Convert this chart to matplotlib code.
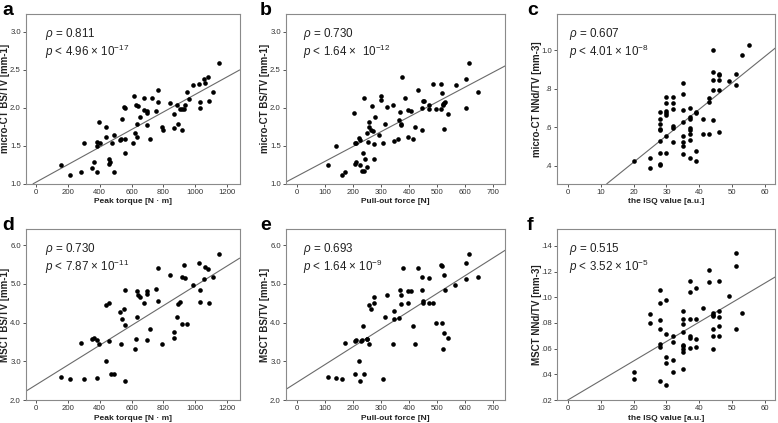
import matplotlib
matplotlib.use("Agg")
import matplotlib.pyplot as plt

plt.rcParams['font.family'] = ['Liberation Sans', 'DejaVu Sans']
plt.rcParams['mathtext.fontset'] = 'custom'
plt.rcParams['mathtext.rm'] = 'Liberation Sans'
plt.rcParams['mathtext.it'] = 'Liberation Sans:italic'
plt.rcParams['mathtext.bf'] = 'Liberation Sans:bold'

# ---------------- data ----------------
# a: peak torque vs micro-CT BS/TV
a_x = [155, 215, 284, 299, 351, 366, 380, 383, 383, 395, 401, 437, 441, 460, 458, 466, 479, 489,
       491, 527, 531, 541, 554, 558, 558, 556, 606, 613, 623, 627, 633, 637, 641, 652, 677, 679,
       694, 696, 698, 715, 729, 753, 763, 769, 792, 800, 844, 866, 866, 886, 890, 905, 915, 917,
       928, 937, 949, 962, 989, 1024, 1029, 1029, 1056, 1062, 1081, 1087, 1112, 1147]
a_y = [1.24, 1.11, 1.16, 1.54, 1.21, 1.29, 1.16, 1.50, 1.55, 1.81, 1.53, 1.75, 1.61, 1.32, 1.26,
       1.28, 1.53, 1.16, 1.64, 1.57, 1.59, 1.85, 2.01, 2.00, 1.59, 1.40, 1.53, 2.15, 1.66, 2.04,
       1.62, 1.78, 2.02, 1.88, 2.12, 1.97, 1.93, 1.95, 1.77, 1.59, 2.13, 1.95, 2.23, 2.08, 1.75,
       1.70, 2.06, 1.91, 1.73, 2.03, 1.78, 1.98, 1.98, 1.70, 1.98, 2.04, 2.20, 2.11, 2.30, 2.31,
       2.08, 1.99, 2.38, 2.32, 2.40, 2.09, 2.21, 2.59]

# b: pull-out force vs micro-CT BS/TV
b_x = [111, 139, 159, 170, 204, 207, 209, 206, 210, 221, 225, 226, 234, 233, 238, 237, 241, 248,
       253, 251, 257, 258, 262, 267, 269, 273, 279, 274, 291, 299, 299, 306, 312, 319, 341, 345,
       362, 359, 368, 369, 371, 375, 386, 394, 397, 407, 413, 421, 432, 446, 446, 449, 451, 471,
       472, 486, 495, 513, 514, 516, 520, 522, 524, 528, 523, 539, 567, 601, 603, 614, 644]
b_y = [1.24, 1.49, 1.11, 1.16, 1.93, 1.53, 1.54, 1.26, 1.29, 1.60, 1.58, 1.25, 1.40, 1.17, 1.17,
       2.12, 1.32, 1.67, 1.55, 1.22, 1.81, 1.75, 1.70, 2.02, 1.69, 1.52, 1.88, 1.32, 1.64, 2.15,
       2.10, 1.54, 1.78, 2.01, 2.03, 1.56, 1.84, 1.59, 1.94, 1.77, 1.78, 2.40, 2.13, 1.97, 1.62,
       1.95, 1.59, 1.74, 2.23, 2.00, 1.70, 2.09, 2.09, 2.03, 1.98, 2.31, 1.98, 1.98, 2.31, 2.19,
       2.04, 2.05, 2.06, 2.08, 1.72, 1.91, 2.30, 2.38, 1.99, 2.59, 2.21]

# c: ISQ vs micro-CT NNd/TV
c_x = [20, 25, 25, 28, 28, 28, 28, 28, 28, 28, 28, 28, 30, 30, 30, 30, 30, 30, 30, 32, 32, 32,
       32, 32, 32, 35, 35, 35, 35, 35, 35, 35, 35, 37, 37, 37, 37, 37, 37, 37, 37, 39, 39, 39,
       39, 41, 41, 43, 43, 43, 44, 44, 44, 44, 44, 46, 46, 46, 46, 46, 49, 51, 51, 53, 55]
c_y = [0.424, 0.388, 0.438, 0.680, 0.645, 0.617, 0.590, 0.584, 0.530, 0.466, 0.410, 0.403,
       0.760, 0.726, 0.686, 0.676, 0.665, 0.553, 0.466, 0.760, 0.726, 0.695, 0.605, 0.598,
       0.521, 0.832, 0.775, 0.690, 0.625, 0.556, 0.523, 0.500, 0.459, 0.700, 0.653, 0.645,
       0.594, 0.584, 0.563, 0.535, 0.438, 0.678, 0.674, 0.475, 0.426, 0.645, 0.565, 0.565,
       0.752, 0.730, 1.000, 0.890, 0.848, 0.792, 0.640, 0.879, 0.872, 0.846, 0.796, 0.577,
       0.840, 0.875, 0.820, 0.976, 1.030]

# d: peak torque vs MSCT BS/TV
d_x = [155, 215, 284, 299, 351, 366, 380, 380, 395, 437, 441, 460, 460, 470, 491, 527, 541, 531,
       554, 558, 558, 558, 623, 627, 633, 637, 641, 652, 677, 696, 698, 696, 715, 753, 763, 769,
       792, 844, 866, 866, 886, 890, 905, 915, 917, 928, 937, 949, 989, 1024, 1029, 1029, 1056,
       1062, 1081, 1087, 1112, 1147]
d_y = [2.59, 2.54, 3.46, 2.54, 3.58, 3.59, 2.57, 3.56, 3.44, 4.45, 3.01, 3.52, 4.50, 2.68, 2.68,
       4.28, 4.10, 3.44, 4.34, 4.84, 3.93, 2.49, 3.33, 3.57, 4.82, 4.14, 4.71, 4.66, 4.51, 4.81,
       4.75, 3.55, 3.83, 4.86, 5.41, 4.56, 3.44, 5.23, 3.75, 3.61, 4.15, 4.47, 4.52, 5.19, 3.97,
       5.48, 5.16, 3.97, 4.97, 5.55, 4.53, 4.83, 5.12, 5.44, 5.39, 4.51, 5.18, 5.78]

# e: pull-out force vs MSCT BS/TV
e_x = [111, 139, 159, 170, 205, 209, 205, 222, 225, 228, 233, 234, 237, 249, 251, 256, 258, 265,
       274, 276, 305, 312, 319, 342, 344, 344, 364, 368, 369, 372, 376, 394, 397, 407, 413, 419,
       431, 447, 447, 448, 449, 471, 472, 486, 495, 515, 516, 517, 519, 523, 524, 529, 540, 565,
       601, 601, 613, 644]
e_y = [2.59, 2.57, 2.54, 3.46, 3.53, 3.56, 2.67, 3.01, 2.48, 3.52, 3.54, 3.92, 2.68, 3.57, 3.57,
       3.44, 4.45, 4.34, 4.50, 4.66, 2.54, 4.14, 4.71, 3.44, 4.29, 4.10, 4.12, 4.85, 4.72, 4.47,
       5.40, 4.51, 4.82, 4.81, 3.92, 3.44, 5.41, 5.19, 4.84, 4.56, 4.51, 5.16, 4.51, 4.51, 3.98,
       5.48, 5.45, 3.98, 3.33, 3.74, 5.22, 4.83, 3.60, 4.97, 5.54, 5.13, 5.78, 5.18]

# f: ISQ vs MSCT NNd/TV
f_x = [20, 20, 25, 25, 28, 28, 28, 28, 28, 28, 28, 30, 30, 30, 30, 30, 32, 32, 32, 32, 35, 35,
       35, 35, 35, 35, 35, 35, 35, 37, 37, 37, 37, 37, 37, 39, 39, 39, 39, 41, 43, 43, 44, 44,
       44, 44, 44, 44, 46, 46, 46, 46, 46, 49, 51, 51, 51, 53]
f_y = [0.0415, 0.0360, 0.0870, 0.0800, 0.1060, 0.0955, 0.0820, 0.0753, 0.0635, 0.0614, 0.0350,
       0.0980, 0.0714, 0.0533, 0.0490, 0.0320, 0.0698, 0.0650, 0.0515, 0.0418, 0.0897, 0.0834,
       0.0790, 0.0730, 0.0632, 0.0620, 0.0600, 0.0575, 0.0444, 0.1130, 0.1044, 0.0834, 0.0695,
       0.0685, 0.0604, 0.1070, 0.0834, 0.0672, 0.0612, 0.0913, 0.1210, 0.1120, 0.0880, 0.0866,
       0.0853, 0.0750, 0.0698, 0.0598, 0.1125, 0.0895, 0.0845, 0.0777, 0.0698, 0.1013, 0.1345,
       0.1243, 0.0750, 0.0880]

# regression lines (intercept, slope)
fit_a = (1.02, 0.001153)
fit_b = (1.10, 0.00195)
fit_c = (0.142, 0.0138)
fit_d = (2.39, 0.00256)
fit_e = (2.46, 0.00459)
fit_f = (0.020, 0.00152)

rho_texts = ['0.811', '0.730', '0.607', '0.730', '0.693', '0.515']
p_texts = [r'4.96 × 10$^{-17}$', r'1.64 ×  10$^{-12}$', r'4.01 × 10$^{-8}$',
           r'7.87 × 10$^{-11}$', r'1.64 × 10$^{-9}$', r'3.52 × 10$^{-5}$']

x_labels = ['Peak torque [N · m]', 'Pull-out force [N]', 'the ISQ value [a.u.]']
y_labels = ['micro-CT BS/TV [mm-1]', 'micro-CT BS/TV [mm-1]', 'micro-CT NNd/TV [mm-3]',
            'MSCT BS/TV [mm-1]', 'MSCT BS/TV [mm-1]', 'MSCT NNd/TV [mm-3]']
panel_letters = ['a', 'b', 'c', 'd', 'e', 'f']

xt_torque = [0, 200, 400, 600, 800, 1000, 1200]
xt_force = [0, 100, 200, 300, 400, 500, 600, 700]
xt_isq = [0, 10, 20, 30, 40, 50, 60]
yt_micro_bs = [1.0, 1.5, 2.0, 2.5, 3.0]
yt_micro_bs_lbl = ['1.0', '1.5', '2.0', '2.5', '3.0']
yt_msct_bs = [2.0, 3.0, 4.0, 5.0, 6.0]
yt_msct_bs_lbl = ['2.0', '3.0', '4.0', '5.0', '6.0']
yt_micro_nnd = [0.4, 0.6, 0.8, 1.0]
yt_micro_nnd_lbl = ['.4', '.6', '.8', '1.0']
yt_msct_nnd = [0.02, 0.04, 0.06, 0.08, 0.10, 0.12, 0.14]
yt_msct_nnd_lbl = ['.02', '.04', '.06', '.08', '.10', '.12', '.14']

# ---------------- layout ----------------
W, H = 778, 423
fig = plt.figure(figsize=(W / 100, H / 100), dpi=100)
fig.patch.set_facecolor('white')

def rect(l, r, t, b):
    return [l / W, (H - b) / H, (r - l) / W, (b - t) / H]

cols = [(26, 239.5), (286, 505), (557, 775)]
rows = [(14, 183.7), (229.3, 400)]

panels = [
    (a_x, a_y, fit_a, xt_torque, (-63, 1278), yt_micro_bs, yt_micro_bs_lbl, (1.0, 3.23)),
    (b_x, b_y, fit_b, xt_force, (-40, 742), yt_micro_bs, yt_micro_bs_lbl, (1.0, 3.23)),
    (c_x, c_y, fit_c, xt_isq, (-3.3, 63.0), yt_micro_nnd, yt_micro_nnd_lbl, (0.306, 1.19)),
    (d_x, d_y, fit_d, xt_torque, (-63, 1278), yt_msct_bs, yt_msct_bs_lbl, (2.0, 6.41)),
    (e_x, e_y, fit_e, xt_force, (-40, 742), yt_msct_bs, yt_msct_bs_lbl, (2.0, 6.41)),
    (f_x, f_y, fit_f, xt_isq, (-3.3, 63.0), yt_msct_nnd, yt_msct_nnd_lbl, (0.02, 0.153)),
]
text_x = [19, 17, 12, 19, 17, 12]
letter_x = [2, 260, 527, 2, 260, 527]

edge = '#8a8a8a'
for i, (xs, ys, fit, xt, xl, yt, ytl, yl) in enumerate(panels):
    r, c = divmod(i, 3)
    l, rr = cols[c]
    t, b = rows[r]
    aw = rr - l
    ah = b - t
    ax = fig.add_axes(rect(l, rr, t, b))
    ax.scatter(xs, ys, s=11, color='black', linewidths=0, zorder=3)
    ax.axline((0, fit[0]), slope=fit[1], color='#6a6a6a', lw=0.8, zorder=2)
    ax.set_xlim(*xl)
    ax.set_ylim(*yl)
    ax.set_xticks(xt)
    ax.set_xticklabels([str(v) for v in xt])
    ax.set_yticks(yt)
    ax.set_yticklabels(ytl)
    for sp in ax.spines.values():
        sp.set_color(edge)
        sp.set_linewidth(0.8)
    ax.tick_params(direction='out', length=2.5, width=0.7, color='#555555',
                   labelsize=5.6, labelcolor='#333333', pad=1.2)
    ax.set_xlabel(x_labels[c], fontsize=6.0, fontweight='bold', color='#222222',
                  va='center')
    ax.xaxis.set_label_coords(0.5, -18.0 / ah)
    ax.set_ylabel(y_labels[i], fontsize=7.0, fontweight='bold', color='#222222',
                  va='center')
    ax.yaxis.set_label_coords(-20.5 / aw, 0.5)
    tx = text_x[i] / aw
    ax.text(tx, 1 - 12.0 / ah,
            r'$\rho$ = ' + rho_texts[i] + '\n' + r'$p$ < ' + p_texts[i],
            transform=ax.transAxes, fontsize=8.4, color='#222222',
            va='top', ha='left', linespacing=1.05)
    fig.text(letter_x[i] / W, 1 - (t + 1) / H, panel_letters[i], fontsize=14,
             fontweight='bold', va='baseline', ha='left')

fig.savefig('out.png', dpi=100, facecolor='white')
